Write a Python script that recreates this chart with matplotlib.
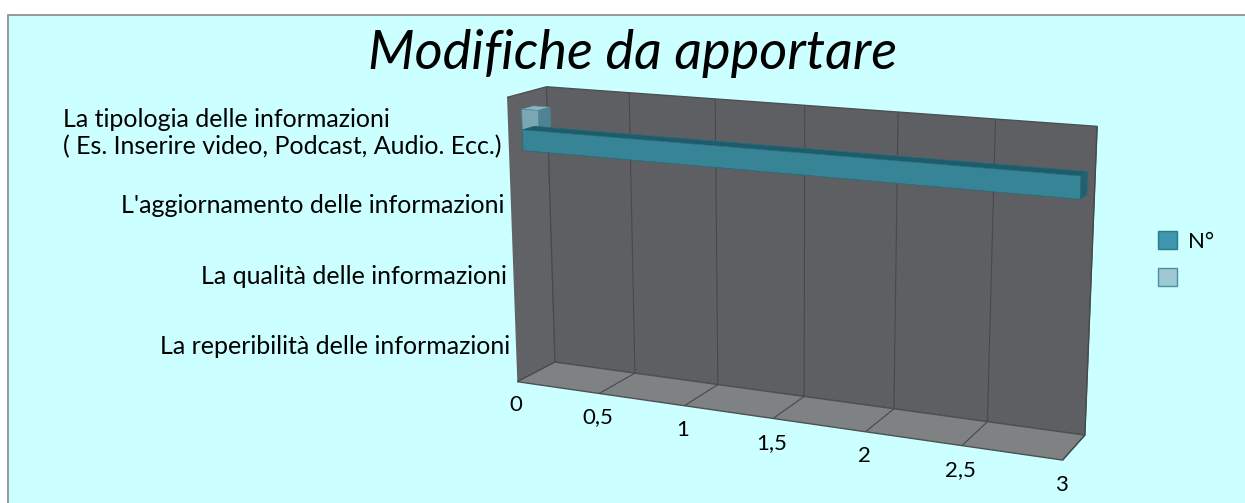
import numpy as np
import matplotlib.pyplot as plt
from matplotlib.patches import Rectangle, Patch
from matplotlib.ticker import FuncFormatter

# data (bottom category first)
categories = [
    "La reperibilità delle informazioni",
    "La qualità delle informazioni",
    "L'aggiornamento delle informazioni",
    "La tipologia delle informazioni\n( Es. Inserire video, Podcast, Audio. Ecc.)",
]
values_n = [0, 0, 0, 3]
values_extra = [0, 0, 0, 0.1]
series_names = ["N°", ""]
x_ticks = [0, 0.5, 1, 1.5, 2, 2.5, 3]

plt.rcParams['font.family'] = ['Lato', 'DejaVu Sans']
plt.rcParams['grid.color'] = '#46484a'
plt.rcParams['grid.linewidth'] = 0.8

W, H = 1245, 503
fig = plt.figure(figsize=(W / 100, H / 100), dpi=100)
fig.patch.set_facecolor('white')

# cyan chart area with grey border on left / top
fig.add_artist(Rectangle((8 / W, -0.1), 1.2, 1.1 - 15 / H, transform=fig.transFigure,
                         facecolor='#CCFFFF', edgecolor='#888888', lw=1.2, zorder=0))

fig.text(633 / W, 1 - 53 / H, "Modifiche da apportare", ha='center', va='center',
         fontsize=39, style='italic', color='black')

# 3D axes (square box gets centred on the wall)
side = 880
cx, cy = 777, 274
ax = fig.add_axes([(cx - side / 2) / W, (H - cy - side / 2) / H, side / W, side / H],
                  projection='3d', proj_type='persp', focal_length=0.4)
ax.set_facecolor((0, 0, 0, 0))
ax.view_init(elev=14, azim=-66)
ax.set_box_aspect((1.92, 0.25, 0.98), zoom=0.745)
ax.set_xlim(0, 3)
ax.set_ylim(0, 1)
ax.set_zlim(0, len(categories))

# panes: left wall, back wall, floor
ax.xaxis.set_pane_color('#606265')
ax.yaxis.set_pane_color('#5d5f62')
ax.zaxis.set_pane_color('#7e8283')
for a in (ax.xaxis, ax.yaxis, ax.zaxis):
    a.pane.set_edgecolor('#4e5052')
    a.line.set_color((0, 0, 0, 0))
    a._axinfo['tick']['inward_factor'] = 0
    a._axinfo['tick']['outward_factor'] = 0

ax.set_xticks(x_ticks)
ax.xaxis.set_major_formatter(FuncFormatter(lambda v, p: f"{v:g}".replace('.', ',')))
ax.tick_params(axis='x', labelsize=16, pad=7)
ax.set_yticks([])
ax.set_zticks([])

# bars
bar_h = 1 / 3.5
depth0, depth = 0.35, 0.3
teal_faces = ['#1E5A69', '#1F5C6B', '#388497', '#388497', '#2A6A7A', '#245F6E']
light_faces = ['#5E8E9B', '#8DB5C1', '#7BA7B4', '#7BA7B4', '#5E8E9B', '#4E8393']

for i, v in enumerate(values_n):
    if v > 0:
        ax.bar3d(0, depth0, i + 0.5 - bar_h, v, depth, bar_h,
                 color=teal_faces, shade=False, edgecolor='#2a6a7a', linewidth=0.4)
for i, v in enumerate(values_extra):
    if v > 0:
        ax.bar3d(0, depth0, i + 0.5, v, depth, bar_h,
                 color=light_faces, shade=False, edgecolor='#4e8393', linewidth=0.4)

# category labels at the front-left edge
for i, cat in enumerate(categories):
    ax.text(-0.04, 0, i + 0.5, cat, ha='right', va='center', fontsize=18,
            multialignment='left', linespacing=1.2)

handles = [Patch(facecolor='#4096AD', edgecolor='#2C7A8E'),
           Patch(facecolor='#A0C8D4', edgecolor='#4A8FA3')]
fig.legend(handles=handles, labels=series_names, loc='upper left',
           bbox_to_anchor=(1138 / W, 1 - 211 / H), frameon=False, fontsize=16,
           handlelength=0.85, handleheight=0.85, handletextpad=0.5, labelspacing=0.75)

fig.savefig('out.png', dpi=100)
